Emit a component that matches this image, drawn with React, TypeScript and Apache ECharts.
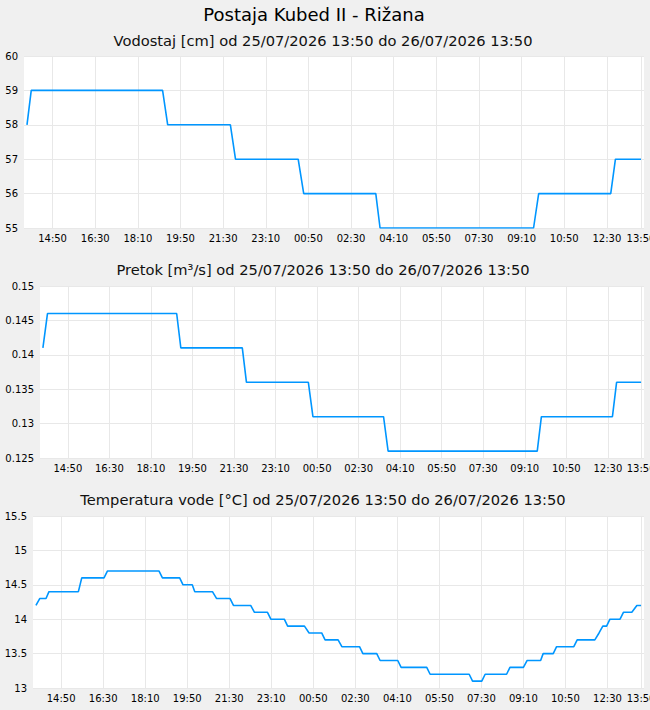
import React, { useEffect, useRef } from "react";
import * as echarts from "echarts";

const FONT = "DejaVu Sans";
const START = "25/07/2026 13:50";
const END = "26/07/2026 13:50";
const stationTitle = "Postaja Kubed II - Rižana";
const panelTitles = [
  `Vodostaj [cm] od ${START} do ${END}`,
  `Pretok [m³/s] od ${START} do ${END}`,
  `Temperatura vode [°C] od ${START} do ${END}`,
];

const xTickLabels = [
  "14:50", "16:30", "18:10", "19:50", "21:30", "23:10", "00:50",
  "02:30", "04:10", "05:50", "07:30", "09:10", "10:50", "12:30", "13:50",
];

const levelData: [string, number][] = [
  ["13:50", 58], ["14:00", 59], ["19:08", 59], ["19:20", 58],
  ["21:47", 58], ["21:59", 57], ["00:26", 57], ["00:39", 56],
  ["03:28", 56], ["03:38", 55], ["09:38", 55], ["09:50", 56],
  ["12:39", 56], ["12:50", 57], ["13:50", 57],
];

const flowData: [string, number][] = [
  ["13:50", 0.141], ["14:01", 0.146], ["19:12", 0.146], ["19:22", 0.141],
  ["21:50", 0.141], ["22:00", 0.136], ["00:29", 0.136], ["00:40", 0.131],
  ["03:30", 0.131], ["03:41", 0.126], ["09:40", 0.126], ["09:50", 0.131],
  ["12:41", 0.131], ["12:51", 0.136], ["13:50", 0.136],
];

const tempData: [string, number][] = [
  ["13:50", 14.2], ["13:59", 14.3], ["14:14", 14.3], ["14:21", 14.4],
  ["15:31", 14.4], ["15:39", 14.6], ["16:32", 14.6], ["16:40", 14.7],
  ["18:43", 14.7], ["18:51", 14.6], ["19:32", 14.6], ["19:40", 14.5],
  ["20:02", 14.5], ["20:08", 14.4], ["20:50", 14.4], ["21:00", 14.3],
  ["21:32", 14.3], ["21:40", 14.2], ["22:21", 14.2], ["22:30", 14.1],
  ["23:01", 14.1], ["23:09", 14.0], ["23:41", 14.0], ["23:49", 13.9],
  ["00:29", 13.9], ["00:40", 13.8], ["01:10", 13.8], ["01:18", 13.7],
  ["01:49", 13.7], ["01:58", 13.6], ["02:40", 13.6], ["02:48", 13.5],
  ["03:21", 13.5], ["03:29", 13.4], ["04:11", 13.4], ["04:19", 13.3],
  ["05:20", 13.3], ["05:28", 13.2], ["07:01", 13.2], ["07:09", 13.1],
  ["07:31", 13.1], ["07:39", 13.2], ["08:30", 13.2], ["08:38", 13.3],
  ["09:10", 13.3], ["09:19", 13.4], ["09:51", 13.4], ["09:57", 13.5],
  ["10:21", 13.5], ["10:29", 13.6], ["11:10", 13.6], ["11:18", 13.7],
  ["12:00", 13.7], ["12:10", 13.8], ["12:19", 13.9], ["12:28", 13.9],
  ["12:36", 14.0], ["13:00", 14.0], ["13:08", 14.1], ["13:28", 14.1],
  ["13:40", 14.2], ["13:50", 14.2],
];

const levelAxis = { min: 55, max: 60, interval: 1 };
const flowAxis = { min: 0.125, max: 0.15, interval: 0.005 };
const tempAxis = { min: 13, max: 15.5, interval: 0.5 };

const START_MIN = 13 * 60 + 50;

// convert clock times to minutes since start, rolling over midnight
function toOffsets(times: string[]): number[] {
  let day = 0;
  let prev = -Infinity;
  return times.map((t) => {
    const [h, m] = t.split(":").map(Number);
    const raw = h * 60 + m - START_MIN;
    let v = raw + day * 1440;
    if (v < prev) {
      day += 1;
      v = raw + day * 1440;
    }
    prev = v;
    return v;
  });
}

function fmtClock(v: number): string {
  const m = (((Math.round(v) + START_MIN) % 1440) + 1440) % 1440;
  const hh = String(Math.floor(m / 60)).padStart(2, "0");
  const mm = String(m % 60).padStart(2, "0");
  return `${hh}:${mm}`;
}

function toSeries(d: [string, number][]) {
  const xs = toOffsets(d.map((p) => p[0]));
  return d.map((p, i) => [xs[i], p[1]]);
}

export default function App() {
  const ref = useRef<HTMLDivElement>(null);

  useEffect(() => {
    if (!ref.current) return;
    const chart = echarts.init(ref.current, undefined, { renderer: "svg" });
    const xTicks = toOffsets(xTickLabels);
    const grids = [
      { left: 24, right: 6, top: 56, height: 172 },
      { left: 40, right: 6, top: 286, height: 172 },
      { left: 33, right: 6, top: 516, height: 172 },
    ];
    const axes = [levelAxis, flowAxis, tempAxis];
    const datas = [levelData, flowData, tempData];
    const titleY = [40, 269, 499];
    const gridColor = "#e8e8e8";

    const option: any = {
      animation: false,
      backgroundColor: "#f0f0f0",
      textStyle: { fontFamily: FONT },
      grid: grids.map((g) => ({
        ...g,
        show: true,
        backgroundColor: "#ffffff",
        borderWidth: 0,
        containLabel: false,
        outerBoundsMode: "none",
      })),
      xAxis: grids.map((_, i) => ({
        type: "value",
        gridIndex: i,
        min: -7,
        max: 1447,
        axisLine: { show: false },
        axisTick: { show: false, customValues: xTicks },
        axisLabel: {
          customValues: xTicks,
          formatter: (v: number) => fmtClock(v),
          fontSize: 10,
          color: "#000",
          margin: 5,
          fontFamily: FONT,
        },
        splitLine: { show: true, lineStyle: { color: gridColor, width: 1 } },
      })),
      yAxis: axes.map((a, i) => ({
        type: "value",
        gridIndex: i,
        min: a.min,
        max: a.max,
        interval: a.interval,
        axisLine: { show: false },
        axisTick: { show: false },
        axisLabel: { fontSize: 10, color: "#000", margin: 6, fontFamily: FONT },
        splitLine: { show: true, lineStyle: { color: gridColor, width: 1 } },
      })),
      series: datas.map((d, i) => ({
        type: "line",
        xAxisIndex: i,
        yAxisIndex: i,
        data: toSeries(d),
        showSymbol: false,
        symbol: "none",
        lineStyle: { color: "#0096ff", width: 1.6 },
        itemStyle: { color: "#0096ff" },
      })),
      graphic: [
        {
          type: "text",
          x: 314,
          y: 14,
          style: {
            text: stationTitle,
            fontSize: 18,
            fontFamily: FONT,
            fill: "#000",
            textAlign: "center",
            textVerticalAlign: "middle",
          },
        },
        ...panelTitles.map((t, i) => ({
          type: "text",
          x: 323,
          y: titleY[i],
          style: {
            text: t,
            fontSize: 14.67,
            fontFamily: FONT,
            fill: "#111",
            textAlign: "center",
            textVerticalAlign: "middle",
          },
        })),
      ],
    };
    chart.setOption(option);
    return () => chart.dispose();
  }, []);

  return (
    <div
      ref={ref}
      style={{
        position: "fixed",
        left: 0,
        top: 0,
        width: 650,
        height: 710,
        background: "#f0f0f0",
      }}
    />
  );
}
